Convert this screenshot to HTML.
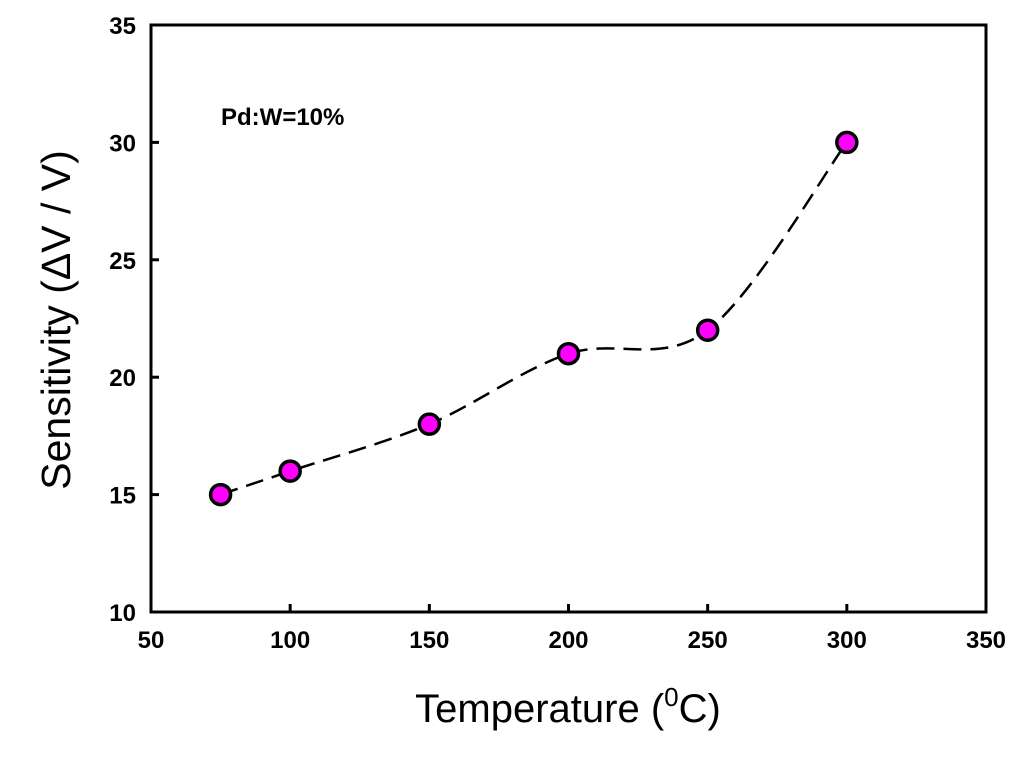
<!DOCTYPE html>
<html><head><meta charset="utf-8"><style>
body{margin:0;background:#fff;}
svg{display:block;font-family:"Liberation Sans",Arial,sans-serif;}
</style></head><body>
<svg id="chart" width="1024" height="757">
<g id="axes"></g><g id="series"></g>
<text x="221" y="125" font-size="24" font-weight="bold">Pd:W=10%</text>
<text x="568" y="722" font-size="40" text-anchor="middle">Temperature (<tspan font-size="26" dy="-16">0</tspan><tspan dy="16">C)</tspan></text>
<text transform="translate(70,320) rotate(-90)" font-size="41" text-anchor="middle">Sensitivity (ΔV / V)</text>
</svg>
<script>
const xTicks=[50,100,150,200,250,300,350];
const yTicks=[10,15,20,25,30,35];
const temps=[75,100,150,200,250,300];
const sens=[15,16,18,21,22,30];
const L=151,R=986,T=25,B=612;
const sx=v=>L+(v-50)/300*(R-L);
const sy=v=>B-(v-10)/25*(B-T);
const NS="http://www.w3.org/2000/svg";
const ax=document.getElementById('axes'),se=document.getElementById('series');
function mk(tag,attrs,parent){const e=document.createElementNS(NS,tag);for(const k in attrs)e.setAttribute(k,attrs[k]);parent.appendChild(e);return e;}
const frame=mk('rect',{x:L,y:T,width:R-L,height:B-T,fill:'none',stroke:'#000','stroke-width':3},ax);


xTicks.forEach(v=>{
 const l=mk('line',{x1:sx(v),x2:sx(v),y1:B,y2:B-8,stroke:'#000','stroke-width':3},ax);
 
 
 const t=mk('text',{x:sx(v),y:B+36,'font-size':24,'font-weight':'bold','text-anchor':'middle'},ax);t.textContent=v;
 
 
});
yTicks.forEach(v=>{
 const l=mk('line',{x1:L,x2:L+8,y1:sy(v),y2:sy(v),stroke:'#000','stroke-width':3},ax);
 
 
 const t=mk('text',{x:L-15,y:sy(v)+9,'font-size':24,'font-weight':'bold','text-anchor':'end'},ax);t.textContent=v;
 
 
});
const P=temps.map((t,i)=>[sx(t),sy(sens[i])]);
let d=`M${P[0][0]},${P[0][1]}`;
for(let i=0;i<P.length-1;i++){
 const p0=P[Math.max(i-1,0)],p1=P[i],p2=P[i+1],p3=P[Math.min(i+2,P.length-1)];
 const c1=[p1[0]+(p2[0]-p0[0])/6,p1[1]+(p2[1]-p0[1])/6];
 const c2=[p2[0]-(p3[0]-p1[0])/6,p2[1]-(p3[1]-p1[1])/6];
 d+=` C${c1[0]},${c1[1]} ${c2[0]},${c2[1]} ${p2[0]},${p2[1]}`;
}
const path=mk('path',{d:d,fill:'none',stroke:'#000','stroke-width':2.5,'stroke-dasharray':'18,9'},se);


P.forEach(p=>{
 const c=mk('circle',{cx:p[0],cy:p[1],r:10,fill:'#ff00ff',stroke:'#000','stroke-width':3.5},se);
 
 
});
</script>
</body></html>
